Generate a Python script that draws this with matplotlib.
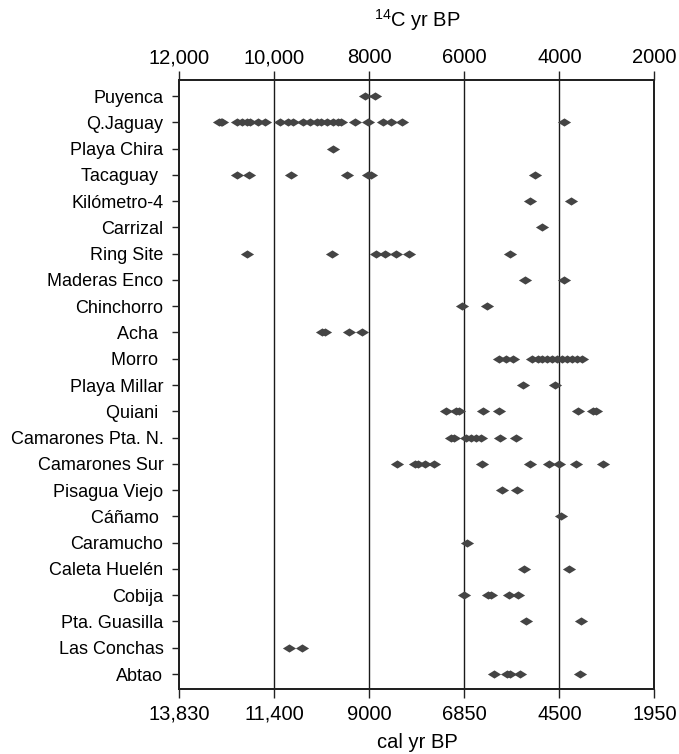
import matplotlib
matplotlib.use("Agg")
import matplotlib.pyplot as plt

plt.rcParams['font.family'] = ['Liberation Sans', 'DejaVu Sans']
plt.rcParams['mathtext.fontset'] = 'custom'
plt.rcParams['mathtext.rm'] = 'Liberation Sans'
plt.rcParams['mathtext.it'] = 'Liberation Sans'

sites = ["Puyenca", "Q.Jaguay", "Playa Chira", "Tacaguay ", "Kilómetro-4", "Carrizal",
         "Ring Site", "Maderas Enco", "Chinchorro", "Acha ", "Morro ", "Playa Millar",
         "Quiani ", "Camarones Pta. N.", "Camarones Sur", "Pisagua Viejo", "Cáñamo ",
         "Caramucho", "Caleta Huelén", "Cobija", "Pta. Guasilla", "Las Conchas", "Abtao"]

puyenca = [8100, 7880]
q_jaguay = [11170, 11130, 11110, 10790, 10690, 10580, 10510, 10340, 10200, 9880, 9710,
            9600, 9390, 9250, 9110, 9010, 8900, 8770, 8660, 8590, 8310, 8030, 7720,
            7540, 7320, 3910]
playa_chira = [8770]
tacaguay = [10790, 10530, 9650, 8470, 8020, 7970, 4520]
kilometro4 = [4620, 3750]
carrizal = [4370]
ring_site = [10570, 8780, 7860, 7680, 7430, 7160, 5030]
maderas_enco = [4730, 3900]
chinchorro = [6050, 5530]
acha = [9000, 8940, 8430, 8150]
morro = [5270, 5130, 4970, 4570, 4460, 4360, 4260, 4150, 4050, 3940, 3840, 3730,
         3630, 3530]
playa_millar = [4770, 4100]
quiani = [6390, 6180, 6110, 5610, 5270, 3600, 3300, 3230]
camarones_pta_n = [6280, 6220, 5960, 5860, 5760, 5650, 5250, 4920]
camarones_sur = [7420, 7040, 6970, 6820, 6630, 5640, 4620, 4220, 4000, 3650, 3090]
pisagua_viejo = [5210, 4900]
canamo = [3970]
caramucho = [5950]
caleta_huelen = [4740, 3790]
cobija = [6000, 5510, 5440, 5060, 4870]
pta_guasilla = [4700, 3550]
las_conchas = [9690, 9420]
abtao = [5370, 5110, 5040, 4830, 3570]

dates = [puyenca, q_jaguay, playa_chira, tacaguay, kilometro4, carrizal, ring_site,
         maderas_enco, chinchorro, acha, morro, playa_millar, quiani, camarones_pta_n,
         camarones_sur, pisagua_viejo, canamo, caramucho, caleta_huelen, cobija,
         pta_guasilla, las_conchas, abtao]

c14_ticks = [12000, 10000, 8000, 6000, 4000, 2000]
c14_labels = ["12,000", "10,000", "8000", "6000", "4000", "2000"]
cal_labels = ["13,830", "11,400", "9000", "6850", "4500", "1950"]
grid_lines = [10000, 8000, 6000, 4000]

fig = plt.figure(figsize=(6.79, 7.54), dpi=100)
ax = fig.add_axes([179.4 / 679, 65 / 754, 475 / 679, 609 / 754])

diamond = [(-1, 0), (0, 0.62), (1, 0), (0, -0.62), (-1, 0)]
for i, d in enumerate(dates):
    ax.plot(d, [i] * len(d), linestyle='none', marker=diamond, markersize=9.5,
            color='#444444', markeredgewidth=0, zorder=3)

for g in grid_lines:
    ax.axvline(g, color='#1a1a1a', linewidth=1.0, zorder=1)

ax.set_xlim(12000, 2000)
ax.set_ylim(22.57, -0.61)
ax.set_yticks(range(len(sites)))
ax.set_yticklabels(sites, fontsize=13)
ax.tick_params(axis='y', direction='out', length=5, width=1.0, pad=6.5, color='#222222')

ax.set_xticks(c14_ticks)
ax.set_xticklabels(cal_labels, fontsize=14.5)
ax.tick_params(axis='x', direction='out', length=6.5, width=1.0, pad=5, color='#222222')

ax2 = ax.twiny()
ax2.set_xlim(ax.get_xlim())
ax2.set_xticks(c14_ticks)
ax2.set_xticklabels(c14_labels, fontsize=14.5)
ax2.tick_params(axis='x', direction='out', length=6.5, width=1.0, pad=2.5, color='#222222')

for a in (ax, ax2):
    for s in a.spines.values():
        s.set_linewidth(1.4)
        s.set_color('#222222')

fig.text(417 / 679, 1 - 742 / 754, "cal yr BP", ha='center', va='center', fontsize=14.5)
fig.text(417 / 679, 1 - 20 / 754, "$^{14}$C yr BP", ha='center', va='center', fontsize=14.5)

fig.savefig("out.png", dpi=100)
